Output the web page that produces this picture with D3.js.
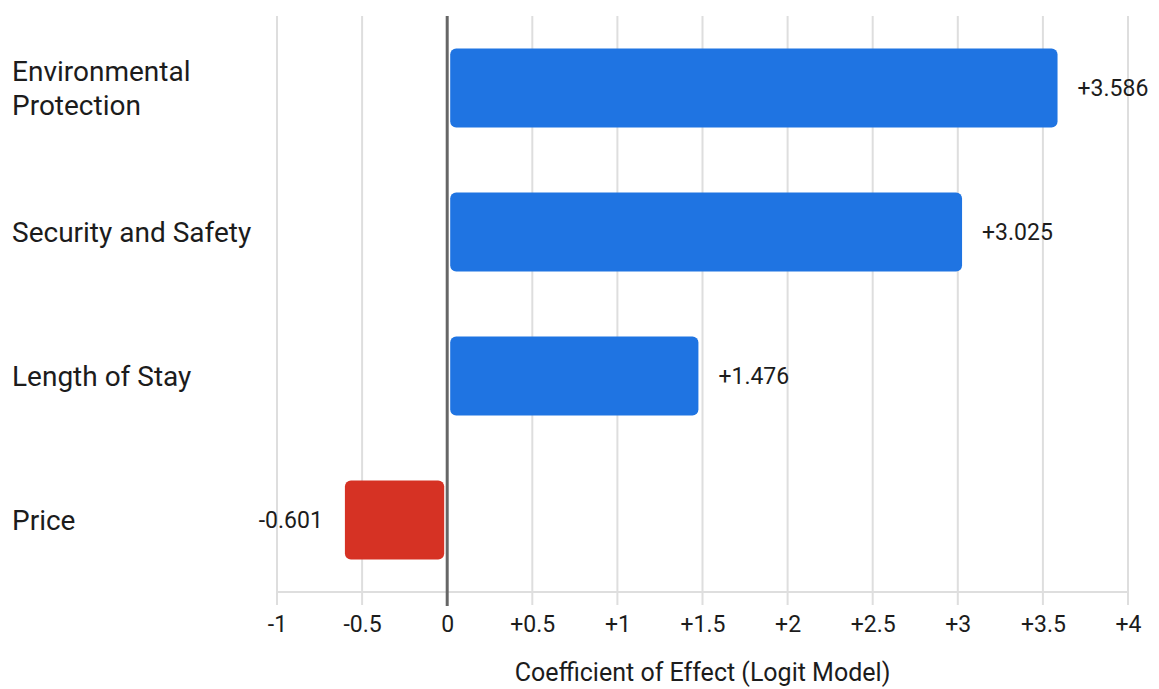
<!DOCTYPE html>
<html>
<head>
<meta charset="utf-8">
<script src="https://cdn.jsdelivr.net/npm/d3@7"></script>
<style>
  html, body { margin: 0; padding: 0; background: #fff; }
  svg { display: block; font-family: Roboto, "Noto Sans", sans-serif; }
</style>
</head>
<body>
<svg id="chart" width="1159" height="689"></svg>
<script>
// Logit model coefficients by attribute
const categories = ["Environmental Protection", "Security and Safety", "Length of Stay", "Price"];
const categoryLines = [["Environmental", "Protection"], ["Security and Safety"], ["Length of Stay"], ["Price"]];
const coefficients = [3.586, 3.025, 1.476, -0.601];
const tickValues = [-1, -0.5, 0, 0.5, 1, 1.5, 2, 2.5, 3, 3.5, 4];
const tickLabels = ["-1", "-0.5", "0", "+0.5", "+1", "+1.5", "+2", "+2.5", "+3", "+3.5", "+4"];
const axisTitle = "Coefficient of Effect (Logit Model)";

const svg = d3.select("#chart");
const plotTop = 16, plotBottom = 592, plotLeft = 277, plotRight = 1128;

const x = d3.scaleLinear().domain([-1, 4]).range([plotLeft, plotRight]);
const y = d3.scaleBand().domain(categories).range([plotTop, plotBottom])
  .paddingInner(0.45).paddingOuter(0.225);

// Vertical gridlines (extend below the baseline as tick marks)
svg.append("g").selectAll("line").data(tickValues.filter(v => v !== 0)).join("line")
  .attr("x1", d => x(d)).attr("x2", d => x(d))
  .attr("y1", plotTop).attr("y2", plotBottom + 13)
  .attr("stroke", "#dedede").attr("stroke-width", 2);

// Baseline
svg.append("line")
  .attr("x1", x(-1)).attr("x2", x(4)).attr("y1", plotBottom).attr("y2", plotBottom)
  .attr("stroke", "#dedede").attr("stroke-width", 2);

// Tick labels
const axis = d3.axisBottom(x).tickValues(tickValues)
  .tickFormat((d, i) => tickLabels[i]).tickSize(0).tickPadding(0);
const axisG = svg.append("g").attr("transform", `translate(0,${plotBottom})`).call(axis);
axisG.select(".domain").remove();
axisG.selectAll("text")
  .attr("y", 32).attr("dy", "0.35em")
  .style("font-size", "23px").style("fill", "#1c1c1c")
  .style("font-family", "Roboto, 'Noto Sans', sans-serif");

// Bars
const data = categories.map((c, i) => ({ c, v: coefficients[i], lines: categoryLines[i] }));
const gap = 3;
svg.append("g").selectAll("rect").data(data).join("rect")
  .attr("x", d => d.v >= 0 ? x(0) + gap : x(d.v))
  .attr("width", d => Math.abs(x(d.v) - x(0)) - gap)
  .attr("y", d => y(d.c))
  .attr("height", y.bandwidth())
  .attr("rx", 6).attr("ry", 6)
  .attr("fill", d => d.v >= 0 ? "#1f74e2" : "#d63224");

// Zero line
svg.append("line")
  .attr("x1", x(0)).attr("x2", x(0)).attr("y1", plotTop).attr("y2", plotBottom + 14)
  .attr("stroke", "#666").attr("stroke-width", 3);

// Value labels
svg.append("g").selectAll("text").data(data).join("text")
  .attr("x", d => d.v >= 0 ? x(d.v) + 20 : x(d.v) - 22)
  .attr("y", d => y(d.c) + y.bandwidth() / 2)
  .attr("dy", "0.35em")
  .attr("text-anchor", d => d.v >= 0 ? "start" : "end")
  .style("font-size", "23px").style("fill", "#1c1c1c")
  .text(d => (d.v >= 0 ? "+" : "") + d.v.toFixed(3));

// Category labels
const catG = svg.append("g").selectAll("text").data(data).join("text")
  .attr("x", 12)
  .attr("y", d => y(d.c) + y.bandwidth() / 2)
  .style("font-size", "28px").style("fill", "#1c1c1c");
catG.selectAll("tspan").data(d => d.lines.map((t, i) => ({ t, i, n: d.lines.length }))).join("tspan")
  .attr("x", 12)
  .attr("dy", d => d.i === 0 ? `${0.35 - (d.n - 1) * 0.6}em` : "1.2em")
  .text(d => d.t);

// Axis title
svg.append("text")
  .attr("x", (plotLeft + plotRight) / 2).attr("y", 672).attr("dy", "0.35em")
  .attr("text-anchor", "middle")
  .style("font-size", "25px").style("fill", "#1c1c1c")
  .text(axisTitle);
</script>
</body>
</html>
